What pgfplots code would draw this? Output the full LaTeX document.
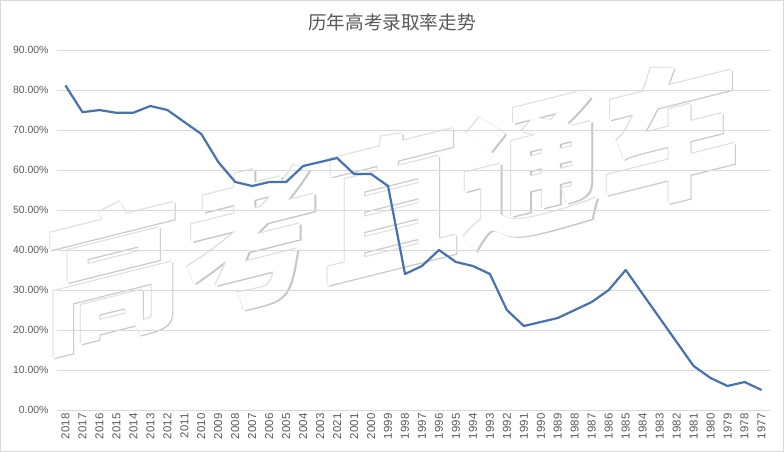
\documentclass[border=0pt]{standalone}
\usepackage{fontspec}
\setmainfont{Liberation Sans}
\newfontfamily\cjk{Noto Sans CJK SC}
\usepackage{pgfplots}
\pgfplotsset{compat=1.18}
\definecolor{linecol}{RGB}{70,114,175}
\definecolor{gridcol}{RGB}{217,217,217}
\definecolor{txtcol}{RGB}{89,89,89}

\pgfplotstableread{
idx rate
0  81.13
1  74.46
2  74.98
3  74.30
4  74.33
5  76.00
6  75.00
7  72.00
8  69.00
9  62.00
10 57.00
11 56.00
12 57.00
13 57.00
14 61.00
15 62.00
16 63.00
17 59.00
18 59.00
19 56.00
20 34.00
21 36.00
22 40.00
23 37.00
24 36.00
25 34.00
26 25.00
27 21.00
28 22.00
29 23.00
30 25.00
31 27.00
32 30.00
33 35.00
34 29.00
35 23.00
36 17.00
37 11.00
38 8.00
39 6.00
40 7.00
41 5.00
}\ratetable

\newcommand{\wmtext}{\cjk\bfseries\fontsize{140}{140}\selectfont 高考直通车}

\begin{document}
\begin{tikzpicture}
\useasboundingbox (0,0) rectangle (784bp,452bp);
\draw[gridcol] (0.5bp,0.5bp) rectangle (783.5bp,451.5bp);

% watermark: shadow, light rim, white face
\node[text=gray!45, yslant=0.25, yscale=1.05, inner sep=0] at (393.3bp,247.2bp) {\wmtext};
\node[text=gray!25, yslant=0.25, yscale=1.05, inner sep=0] at (391bp,249.5bp) {\wmtext};
\node[text=white, yslant=0.25, yscale=1.05, inner sep=0] at (392bp,248.5bp) {\wmtext};

\node[text=txtcol, font={\cjk\fontsize{18.7}{20}\selectfont}] at (392bp,430bp) {历年高考录取率走势};

\begin{axis}[
  at={(57bp,42bp)}, anchor=south west,
  scale only axis, width=713bp, height=360bp,
  xmin=-0.5, xmax=41.5, ymin=0, ymax=90,
  axis line style={draw=none},
  tick style={draw=none},
  ymajorgrids, grid style={gridcol, line width=0.75bp},
  ytick={0,10,...,90},
  yticklabels={0.00\%,10.00\%,20.00\%,30.00\%,40.00\%,50.00\%,60.00\%,70.00\%,80.00\%,90.00\%},
  xtick={0,...,41},
  xticklabels={2018,2017,2016,2015,2014,2013,2012,2011,2010,2009,2008,2007,2006,2005,2004,2003,2021,2001,2000,1999,1998,1997,1996,1995,1994,1993,1992,1991,1990,1989,1988,1987,1986,1985,1984,1983,1982,1981,1980,1979,1978,1977},
  x tick label style={rotate=90, anchor=east, font=\fontsize{11.5}{12}\selectfont, text=txtcol},
  y tick label style={font=\fontsize{10.5}{12}\selectfont, text=txtcol, xshift=-5bp},
]
\addplot[linecol, line width=2.2bp, line join=round, no marks] table[x=idx, y=rate] {\ratetable};
\end{axis}
\end{tikzpicture}
\end{document}
